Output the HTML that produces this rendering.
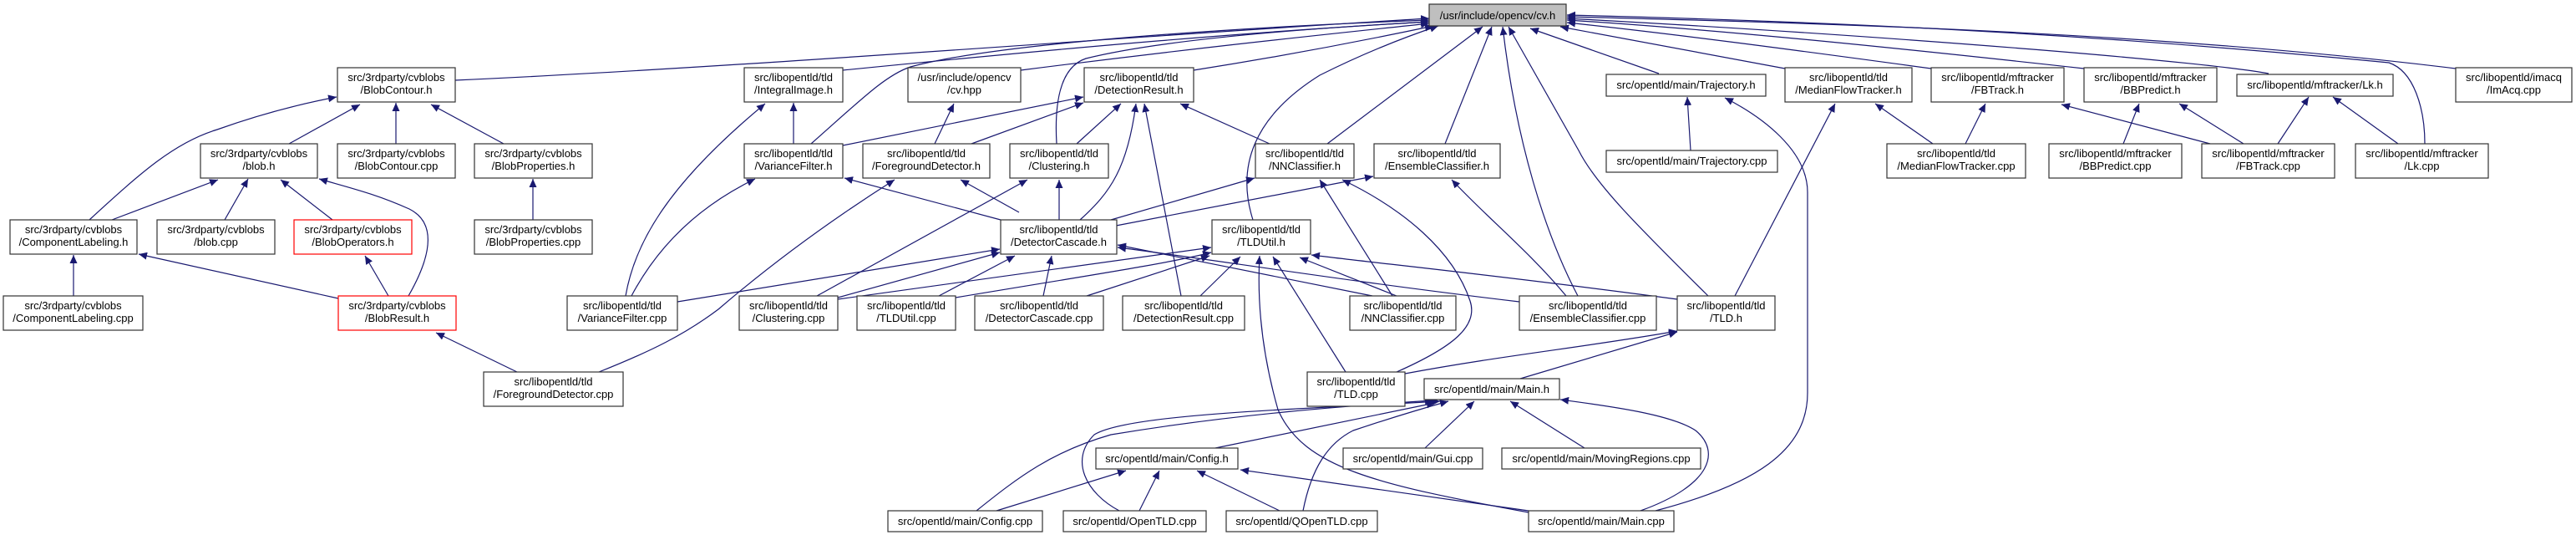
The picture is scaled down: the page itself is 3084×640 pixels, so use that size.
<!DOCTYPE html>
<html><head><meta charset="utf-8"><style>
html,body{margin:0;padding:0;background:#fff;}
svg{display:block;}
text{font-family:"Liberation Sans",Arial,sans-serif;font-size:13px;fill:#000;text-anchor:middle;}
.e{fill:none;stroke:#191970;stroke-width:1.2;marker-end:url(#a);}
rect{fill:#fff;stroke:#333;stroke-width:1.2;}
rect.r{stroke:#ff0000;}
rect.g{fill:#bfbfbf;}
</style></head><body>
<svg width="3084" height="640" viewBox="0 0 3084 640" xmlns="http://www.w3.org/2000/svg">
<defs><marker id="a" markerUnits="userSpaceOnUse" markerWidth="11" markerHeight="9" refX="10" refY="4.5" orient="auto"><path d="M0,0 L10,4.5 L0,9 z" fill="#191970"/></marker></defs>

<!-- edges to cv.h -->
<path class="e" d="M545,96 C900,80 1400,40 1711,22"/>
<path class="e" d="M1009,84 C1300,55 1500,38 1711,26"/>
<path class="e" d="M971,172 C1030,120 1060,90 1090,80 C1200,50 1500,32 1711,24"/>
<path class="e" d="M1222,84 C1450,55 1600,40 1711,28"/>
<path class="e" d="M1265,172 C1262,120 1270,80 1300,70 C1400,45 1600,32 1711,26"/>
<path class="e" d="M1429,84 C1550,65 1650,45 1716,31"/>
<path class="e" d="M1500,263 C1480,200 1500,140 1580,90 Q1650,55 1722,31"/>
<path class="e" d="M1589,172 L1775,32"/>
<path class="e" d="M1730,172 L1786,32"/>
<path class="e" d="M1889,354 C1850,280 1815,170 1799,32"/>
<path class="e" d="M2045,354 C1960,270 1910,220 1890,180 L1806,32"/>
<path class="e" d="M1986,88 L1832,34"/>
<path class="e" d="M2137,82 L1868,32"/>
<path class="e" d="M2312,82 C2150,60 2000,40 1876,27"/>
<path class="e" d="M2495,82 C2250,55 2050,35 1876,24"/>
<path class="e" d="M2716,88 C2650,75 2300,45 1876,22"/>
<path class="e" d="M2940,82 C2600,40 2200,28 1876,20"/>
<path class="e" d="M2903,172 C2903,130 2890,85 2860,75 C2500,40 2200,26 1876,18"/>

<!-- cvblobs -->
<path class="e" d="M107,263 C170,205 210,170 260,155 Q330,130 403,116"/>
<path class="e" d="M346,172 L431,125"/>
<path class="e" d="M474,172 L474,123"/>
<path class="e" d="M603,172 L516,125"/>
<path class="e" d="M134,263 L261,215"/>
<path class="e" d="M269,263 L297,214"/>
<path class="e" d="M398,263 L336,215"/>
<path class="e" d="M489,354 C520,300 520,265 490,250 C450,232 420,225 382,214"/>
<path class="e" d="M465,354 L437,306"/>
<path class="e" d="M405,357 L166,304"/>
<path class="e" d="M88,354 L88,305"/>
<path class="e" d="M619,445 L522,398"/>
<path class="e" d="M638,263 L638,214"/>

<!-- tld -->
<path class="e" d="M950,172 L950,123"/>
<path class="e" d="M749,354 C760,290 800,220 916,124"/>
<path class="e" d="M756,354 C790,290 840,245 904,214"/>
<path class="e" d="M811,361 L1197,298"/>
<path class="e" d="M1198,263 L1011,213"/>
<path class="e" d="M1119,172 L1142,124"/>
<path class="e" d="M1163,172 L1297,123"/>
<path class="e" d="M1009,174 L1297,116"/>
<path class="e" d="M1220,254 L1150,215"/>
<path class="e" d="M717,445 C780,420 820,400 860,370 C930,310 1000,260 1071,215"/>
<path class="e" d="M978,354 L1230,215"/>
<path class="e" d="M1003,356 L1197,302"/>
<path class="e" d="M1124,354 L1215,306"/>
<path class="e" d="M1003,358 C1200,330 1350,310 1450,296"/>
<path class="e" d="M1144,356 C1300,330 1400,315 1450,302"/>
<path class="e" d="M1301,354 L1448,306"/>
<path class="e" d="M1249,354 L1259,306"/>
<path class="e" d="M1268,263 L1268,215"/>
<path class="e" d="M1293,263 C1330,230 1350,200 1360,124"/>
<path class="e" d="M1414,354 L1370,124"/>
<path class="e" d="M1520,172 L1413,124"/>
<path class="e" d="M1289,172 L1342,124"/>
<path class="e" d="M1330,263 L1502,213"/>
<path class="e" d="M1336,270 L1644,211"/>
<path class="e" d="M1667,354 L1580,215"/>
<path class="e" d="M1672,445 C1740,415 1770,390 1760,360 C1740,300 1680,250 1607,215"/>
<path class="e" d="M1875,354 C1830,300 1780,260 1738,215"/>
<path class="e" d="M1643,354 L1338,293"/>
<path class="e" d="M1819,361 C1600,335 1450,310 1338,296"/>
<path class="e" d="M2008,358 C1800,330 1650,315 1570,305"/>
<path class="e" d="M1437,354 L1485,307"/>
<path class="e" d="M1672,354 L1556,308"/>
<path class="e" d="M1611,445 L1524,307"/>
<path class="e" d="M1830,613 C1650,580 1560,560 1530,490 C1510,420 1505,360 1508,306"/>
<path class="e" d="M1682,447 C1800,425 1900,415 2008,396"/>
<path class="e" d="M1820,453 L2008,397"/>
<path class="e" d="M2077,354 L2197,124"/>
<path class="e" d="M2314,172 L2245,124"/>
<path class="e" d="M2353,172 L2377,124"/>
<path class="e" d="M2646,172 L2468,125"/>
<path class="e" d="M2542,172 L2561,124"/>
<path class="e" d="M2686,172 L2609,124"/>
<path class="e" d="M2727,172 L2764,116"/>
<path class="e" d="M2871,172 L2793,116"/>
<path class="e" d="M2024,180 L2020,116"/>
<path class="e" d="M1982,611 C2100,580 2164,540 2164,470 L2164,230 C2164,180 2110,140 2065,117"/>

<!-- main -->
<path class="e" d="M1706,536 L1765,480"/>
<path class="e" d="M1897,536 L1808,480"/>
<path class="e" d="M1964,611 C2050,580 2060,540 2030,515 C2000,495 1920,485 1868,478"/>
<path class="e" d="M1169,611 C1220,570 1260,540 1330,520 C1480,495 1620,485 1716,479"/>
<path class="e" d="M1340,611 C1300,590 1280,550 1310,520 C1350,495 1550,490 1724,480"/>
<path class="e" d="M1560,611 C1570,560 1590,530 1620,515 Q1680,495 1734,480"/>
<path class="e" d="M1455,536 L1718,482"/>
<path class="e" d="M1193,611 L1348,563"/>
<path class="e" d="M1364,611 L1388,563"/>
<path class="e" d="M1532,611 L1433,563"/>
<path class="e" d="M1830,611 L1485,562"/>

<!-- nodes -->
<rect class="g" x="1711" y="5" width="164" height="26"/><text x="1793" y="23">/usr/include/opencv/cv.h</text>

<rect x="404" y="81" width="141" height="41"/><text x="474.5" y="97">src/3rdparty/cvblobs</text><text x="474.5" y="112">/BlobContour.h</text>
<rect x="891" y="81" width="118" height="41"/><text x="950" y="97">src/libopentld/tld</text><text x="950" y="112">/IntegralImage.h</text>
<rect x="1087" y="81" width="135" height="41"/><text x="1154.5" y="97">/usr/include/opencv</text><text x="1154.5" y="112">/cv.hpp</text>
<rect x="1298" y="81" width="131" height="41"/><text x="1363.5" y="97">src/libopentld/tld</text><text x="1363.5" y="112">/DetectionResult.h</text>
<rect x="1923" y="89" width="191" height="26"/><text x="2018.5" y="106">src/opentld/main/Trajectory.h</text>
<rect x="2137" y="81" width="152" height="41"/><text x="2213" y="97">src/libopentld/tld</text><text x="2213" y="112">/MedianFlowTracker.h</text>
<rect x="2312" y="81" width="159" height="41"/><text x="2391.5" y="97">src/libopentld/mftracker</text><text x="2391.5" y="112">/FBTrack.h</text>
<rect x="2495" y="81" width="159" height="41"/><text x="2574.5" y="97">src/libopentld/mftracker</text><text x="2574.5" y="112">/BBPredict.h</text>
<rect x="2678" y="89" width="187" height="26"/><text x="2771.5" y="106">src/libopentld/mftracker/Lk.h</text>
<rect x="2940" y="81" width="139" height="41"/><text x="3009.5" y="97">src/libopentld/imacq</text><text x="3009.5" y="112">/ImAcq.cpp</text>

<rect x="240" y="172" width="140" height="41"/><text x="310" y="188">src/3rdparty/cvblobs</text><text x="310" y="203">/blob.h</text>
<rect x="404" y="172" width="141" height="41"/><text x="474.5" y="188">src/3rdparty/cvblobs</text><text x="474.5" y="203">/BlobContour.cpp</text>
<rect x="568" y="172" width="141" height="41"/><text x="638.5" y="188">src/3rdparty/cvblobs</text><text x="638.5" y="203">/BlobProperties.h</text>
<rect x="891" y="172" width="118" height="41"/><text x="950" y="188">src/libopentld/tld</text><text x="950" y="203">/VarianceFilter.h</text>
<rect x="1033" y="172" width="152" height="41"/><text x="1109" y="188">src/libopentld/tld</text><text x="1109" y="203">/ForegroundDetector.h</text>
<rect x="1209" y="172" width="118" height="41"/><text x="1268" y="188">src/libopentld/tld</text><text x="1268" y="203">/Clustering.h</text>
<rect x="1503" y="172" width="118" height="41"/><text x="1562" y="188">src/libopentld/tld</text><text x="1562" y="203">/NNClassifier.h</text>
<rect x="1645" y="172" width="151" height="41"/><text x="1720.5" y="188">src/libopentld/tld</text><text x="1720.5" y="203">/EnsembleClassifier.h</text>
<rect x="1923" y="180" width="205" height="26"/><text x="2025.5" y="197">src/opentld/main/Trajectory.cpp</text>
<rect x="2259" y="172" width="166" height="41"/><text x="2342" y="188">src/libopentld/tld</text><text x="2342" y="203">/MedianFlowTracker.cpp</text>
<rect x="2453" y="172" width="159" height="41"/><text x="2532.5" y="188">src/libopentld/mftracker</text><text x="2532.5" y="203">/BBPredict.cpp</text>
<rect x="2636" y="172" width="159" height="41"/><text x="2715.5" y="188">src/libopentld/mftracker</text><text x="2715.5" y="203">/FBTrack.cpp</text>
<rect x="2820" y="172" width="159" height="41"/><text x="2899.5" y="188">src/libopentld/mftracker</text><text x="2899.5" y="203">/Lk.cpp</text>

<rect x="12" y="263" width="152" height="41"/><text x="88" y="279">src/3rdparty/cvblobs</text><text x="88" y="294">/ComponentLabeling.h</text>
<rect x="188" y="263" width="141" height="41"/><text x="258.5" y="279">src/3rdparty/cvblobs</text><text x="258.5" y="294">/blob.cpp</text>
<rect class="r" x="352" y="263" width="141" height="41"/><text x="422.5" y="279">src/3rdparty/cvblobs</text><text x="422.5" y="294">/BlobOperators.h</text>
<rect x="568" y="263" width="141" height="41"/><text x="638.5" y="279">src/3rdparty/cvblobs</text><text x="638.5" y="294">/BlobProperties.cpp</text>
<rect x="1198" y="263" width="139" height="41"/><text x="1267.5" y="279">src/libopentld/tld</text><text x="1267.5" y="294">/DetectorCascade.h</text>
<rect x="1451" y="263" width="118" height="41"/><text x="1510" y="279">src/libopentld/tld</text><text x="1510" y="294">/TLDUtil.h</text>

<rect x="4" y="354" width="167" height="41"/><text x="87.5" y="370">src/3rdparty/cvblobs</text><text x="87.5" y="385">/ComponentLabeling.cpp</text>
<rect class="r" x="405" y="354" width="141" height="41"/><text x="475.5" y="370">src/3rdparty/cvblobs</text><text x="475.5" y="385">/BlobResult.h</text>
<rect x="679" y="354" width="132" height="41"/><text x="745" y="370">src/libopentld/tld</text><text x="745" y="385">/VarianceFilter.cpp</text>
<rect x="885" y="354" width="118" height="41"/><text x="944" y="370">src/libopentld/tld</text><text x="944" y="385">/Clustering.cpp</text>
<rect x="1026" y="354" width="118" height="41"/><text x="1085" y="370">src/libopentld/tld</text><text x="1085" y="385">/TLDUtil.cpp</text>
<rect x="1167" y="354" width="154" height="41"/><text x="1244" y="370">src/libopentld/tld</text><text x="1244" y="385">/DetectorCascade.cpp</text>
<rect x="1344" y="354" width="146" height="41"/><text x="1417" y="370">src/libopentld/tld</text><text x="1417" y="385">/DetectionResult.cpp</text>
<rect x="1616" y="354" width="127" height="41"/><text x="1679.5" y="370">src/libopentld/tld</text><text x="1679.5" y="385">/NNClassifier.cpp</text>
<rect x="1819" y="354" width="164" height="41"/><text x="1901" y="370">src/libopentld/tld</text><text x="1901" y="385">/EnsembleClassifier.cpp</text>
<rect x="2008" y="354" width="117" height="41"/><text x="2066.5" y="370">src/libopentld/tld</text><text x="2066.5" y="385">/TLD.h</text>

<rect x="579" y="445" width="167" height="41"/><text x="662.5" y="461">src/libopentld/tld</text><text x="662.5" y="476">/ForegroundDetector.cpp</text>
<rect x="1565" y="445" width="117" height="41"/><text x="1623.5" y="461">src/libopentld/tld</text><text x="1623.5" y="476">/TLD.cpp</text>
<rect x="1705" y="453" width="162" height="25"/><text x="1786" y="470">src/opentld/main/Main.h</text>

<rect x="1312" y="536" width="170" height="25"/><text x="1397" y="553">src/opentld/main/Config.h</text>
<rect x="1608" y="536" width="167" height="25"/><text x="1691.5" y="553">src/opentld/main/Gui.cpp</text>
<rect x="1798" y="536" width="238" height="25"/><text x="1917" y="553">src/opentld/main/MovingRegions.cpp</text>

<rect x="1063" y="611" width="185" height="25"/><text x="1155.5" y="628">src/opentld/main/Config.cpp</text>
<rect x="1273" y="611" width="171" height="25"/><text x="1358.5" y="628">src/opentld/OpenTLD.cpp</text>
<rect x="1468" y="611" width="181" height="25"/><text x="1558.5" y="628">src/opentld/QOpenTLD.cpp</text>
<rect x="1830" y="611" width="174" height="25"/><text x="1917" y="628">src/opentld/main/Main.cpp</text>
</svg>
</body></html>
